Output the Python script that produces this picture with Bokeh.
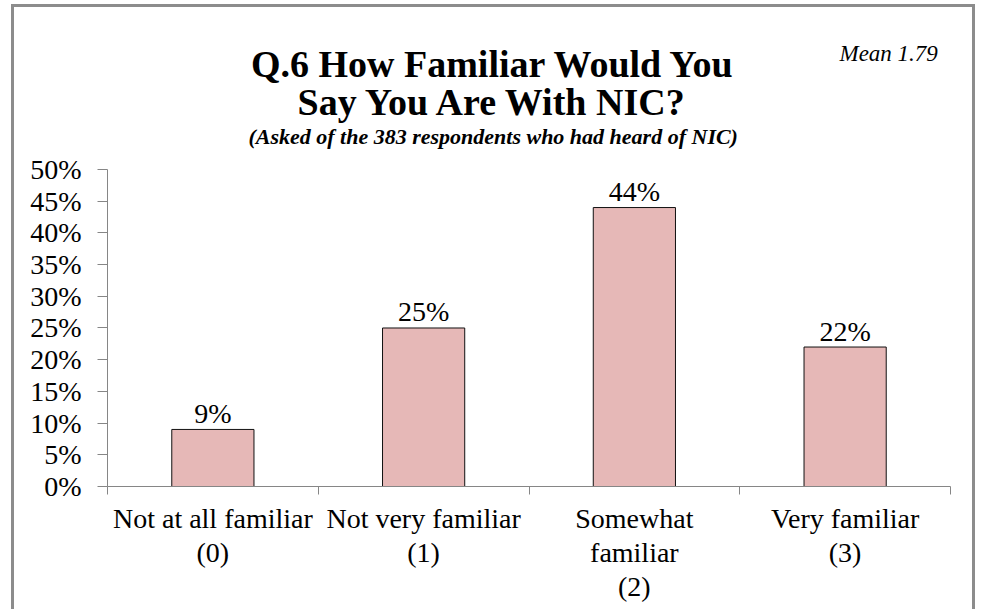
from bokeh.plotting import figure
from bokeh.models import Range1d, FixedTicker, Label
from bokeh.core.properties import value
from bokeh.embed import file_html
from bokeh.resources import INLINE

categories = ["Not at all familiar\n(0)", "Not very familiar\n(1)", "Somewhat\nfamiliar\n(2)", "Very familiar\n(3)"]
percents = [9, 25, 44, 22]
y_ticks = [0, 5, 10, 15, 20, 25, 30, 35, 40, 45, 50]
title_lines = ["Q.6 How Familiar Would You", "Say You Are With NIC?"]
subtitle = "(Asked of the 383 respondents who had heard of NIC)"
mean_text = "Mean 1.79"

FONT = "Liberation Serif"
AXIS = "#868686"
FRAME = "#8c8c8c"

W, H = 964, 605
p = figure(width=W, height=H, output_backend="svg", toolbar_location=None,
           x_range=Range1d(0, len(categories)), y_range=Range1d(0, 75.55),
           min_border_left=93, min_border_right=28, min_border_top=0, min_border_bottom=126)
p.styles = {"margin-left": "11px", "margin-top": "4px",
            "border-top": f"3px solid {FRAME}", "border-left": f"3px solid {FRAME}",
            "border-right": f"3px solid {FRAME}"}
p.title.visible = False
p.outline_line_color = None
p.grid.grid_line_color = None
p.background_fill_color = "white"
p.border_fill_color = "white"

xs = [i + 0.5 for i in range(len(categories))]
p.vbar(x=xs, top=percents, width=0.39, bottom=0, fill_color="#E6B8B7",
       line_color="#111111", line_width=1)
p.text(x=xs, y=percents, text=[f"{v}%" for v in percents], text_align="center",
       text_baseline="alphabetic", y_offset=-16, text_font=value(FONT),
       text_font_size="28px", text_color="#000000")

ya = p.yaxis[0]
ya.bounds = (0, 50)
ya.ticker = FixedTicker(ticks=y_ticks)
ya.major_label_overrides = {t: f"{t}%" for t in y_ticks}
ya.major_tick_out = 10
ya.major_tick_in = 0
ya.minor_tick_out = 0
ya.minor_tick_in = 0
ya.axis_line_color = AXIS
ya.major_tick_line_color = AXIS
ya.major_label_text_font = FONT
ya.major_label_text_font_size = "28px"
ya.major_label_text_color = "#000000"
ya.major_label_standoff = 16

xa = p.xaxis[0]
xa.ticker = FixedTicker(ticks=xs, minor_ticks=list(range(len(categories) + 1)))
xa.major_label_overrides = {x: c for x, c in zip(xs, categories)}
xa.major_tick_out = 0
xa.major_tick_in = 0
xa.minor_tick_out = 8
xa.minor_tick_in = 0
xa.minor_tick_line_color = AXIS
xa.axis_line_color = AXIS
xa.major_label_text_font = FONT
xa.major_label_text_font_size = "28px"
xa.major_label_text_color = "#000000"
xa.major_label_text_line_height = 1.1
xa.major_label_standoff = 8

cx = 1.83
p.add_layout(Label(x=cx, y=66.7, text=title_lines[0], text_align="center", text_baseline="alphabetic",
                   text_font=FONT, text_font_style="bold", text_font_size="38px", text_color="#000000"))
p.add_layout(Label(x=cx, y=60.6, text=title_lines[1], text_align="center", text_baseline="alphabetic",
                   text_font=FONT, text_font_style="bold", text_font_size="38px", text_color="#000000"))
p.add_layout(Label(x=cx, y=55.2, text=subtitle, text_align="center", text_baseline="alphabetic",
                   text_font=FONT, text_font_style="bold italic", text_font_size="22px", text_color="#000000"))
p.add_layout(Label(x=3.94, y=68.3, text=mean_text, text_align="right", text_baseline="alphabetic",
                   text_font=FONT, text_font_style="italic", text_font_size="23px", text_color="#000000"))

open("out.html", "w").write(file_html(p, INLINE))
